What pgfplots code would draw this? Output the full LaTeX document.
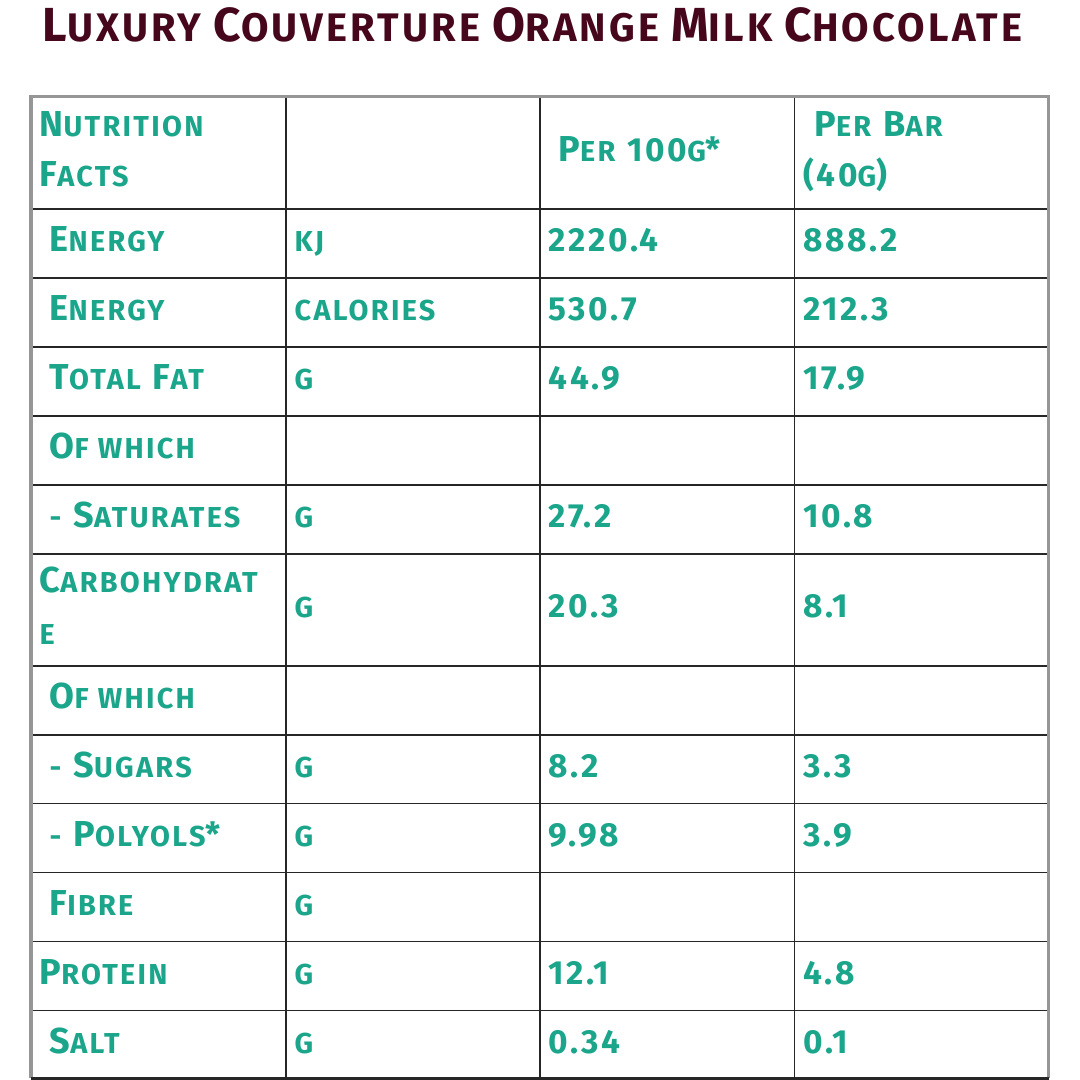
\documentclass[border=0pt]{standalone}
\usepackage{pgfplots}
\pgfplotsset{compat=1.18}
\usepackage{fontspec}
\setmainfont{Fira Sans}
\definecolor{tealA}{RGB}{27,166,140}
\definecolor{maroonA}{RGB}{70,6,28}
\definecolor{grayA}{RGB}{150,150,150}
\newcommand{\B}[1]{{\fontsize{9.5}{11}\selectfont #1}}
\newcommand{\s}[1]{{\fontsize{7.6}{9}\selectfont #1}}
\newcommand{\n}[1]{{\fontsize{8.8}{10}\selectfont #1}}
\newcommand{\TB}[1]{{\fontsize{12.6}{14}\selectfont #1}}
\newcommand{\TS}[1]{{\fontsize{10.5}{12}\selectfont #1}}
\begin{document}
\begin{tikzpicture}
\begin{axis}[width=10cm,height=10cm,scale only axis,
  xmin=0,xmax=1080,ymin=0,ymax=1080,y dir=reverse,hide axis,clip=false]
\fill[white] (axis cs:0,0) rectangle (axis cs:1080,1080);
% inner grid lines
\addplot[black!85,line width=0.45pt,unbounded coords=jump] coordinates {
(286,97)(286,1079) (nan,nan)
(540,97)(540,1079) (nan,nan)
(795,97)(795,1079) (nan,nan)
(31,209)(1049,209) (nan,nan)
(31,278)(1049,278) (nan,nan)
(31,347)(1049,347) (nan,nan)
(31,416)(1049,416) (nan,nan)
(31,485)(1049,485) (nan,nan)
(31,554)(1049,554) (nan,nan)
(31,666)(1049,666) (nan,nan)
(31,735)(1049,735) (nan,nan)
(31,804)(1049,804) (nan,nan)
(31,873)(1049,873) (nan,nan)
(31,942)(1049,942) (nan,nan)
(31,1011)(1049,1011)
};
% outer border
\addplot[grayA,line width=0.8pt] coordinates {(31,1079)(31,97)(1049,97)(1049,1079)};
\addplot[black!85,line width=0.8pt] coordinates {(31,1079)(1049,1079)};
% title
\node[anchor=base,inner sep=0,text=maroonA,font=\bfseries\addfontfeature{LetterSpace=8}] at (axis cs:533,42)
 {\TB{L}\TS{UXURY} \TB{C}\TS{OUVERTURE} \TB{O}\TS{RANGE} \TB{M}\TS{ILK} \TB{C}\TS{HOCOLATE}};
\begin{scope}[every node/.style={anchor=base west,inner sep=0,text=tealA,font=\bfseries\addfontfeature{LetterSpace=8}}]
% header
\node at (axis cs:39,137) {\B{N}\s{UTRITION}};
\node at (axis cs:39,187) {\B{F}\s{ACTS}};
\node at (axis cs:558,162) {\B{P}\s{ER} \n{100}\s{G}\n{*}};
\node at (axis cs:814,137) {\B{P}\s{ER} \B{B}\s{AR}};
\node at (axis cs:803,187) {\n{(40}\s{G}\n{)}};
% column 1
\node at (axis cs:49,252) {\B{E}\s{NERGY}};
\node at (axis cs:49,321) {\B{E}\s{NERGY}};
\node at (axis cs:49,390) {\B{T}\s{OTAL} \B{F}\s{AT}};
\node at (axis cs:49,459) {\B{O}\s{F WHICH}};
\node at (axis cs:49,528) {\s{-} \B{S}\s{ATURATES}};
\node at (axis cs:39,593) {\B{C}\s{ARBOHYDRAT}};
\node at (axis cs:39,645) {\s{E}};
\node at (axis cs:49,709) {\B{O}\s{F WHICH}};
\node at (axis cs:49,778) {\s{-} \B{S}\s{UGARS}};
\node at (axis cs:49,847) {\s{-} \B{P}\s{OLYOLS}\n{*}};
\node at (axis cs:49,916) {\B{F}\s{IBRE}};
\node at (axis cs:39,985) {\B{P}\s{ROTEIN}};
\node at (axis cs:49,1054) {\B{S}\s{ALT}};
% column 2
\node at (axis cs:294,252) {\s{KJ}};
\node at (axis cs:294,321) {\s{CALORIES}};
\node at (axis cs:294,390) {\s{G}};
\node at (axis cs:294,528) {\s{G}};
\node at (axis cs:294,618) {\s{G}};
\node at (axis cs:294,778) {\s{G}};
\node at (axis cs:294,847) {\s{G}};
\node at (axis cs:294,916) {\s{G}};
\node at (axis cs:294,985) {\s{G}};
\node at (axis cs:294,1054) {\s{G}};
% column 3
\node at (axis cs:548,252) {\n{2220.4}};
\node at (axis cs:548,321) {\n{530.7}};
\node at (axis cs:548,390) {\n{44.9}};
\node at (axis cs:548,528) {\n{27.2}};
\node at (axis cs:548,618) {\n{20.3}};
\node at (axis cs:548,778) {\n{8.2}};
\node at (axis cs:548,847) {\n{9.98}};
\node at (axis cs:548,985) {\n{12.1}};
\node at (axis cs:548,1054) {\n{0.34}};
% column 4
\node at (axis cs:803,252) {\n{888.2}};
\node at (axis cs:803,321) {\n{212.3}};
\node at (axis cs:803,390) {\n{17.9}};
\node at (axis cs:803,528) {\n{10.8}};
\node at (axis cs:803,618) {\n{8.1}};
\node at (axis cs:803,778) {\n{3.3}};
\node at (axis cs:803,847) {\n{3.9}};
\node at (axis cs:803,985) {\n{4.8}};
\node at (axis cs:803,1054) {\n{0.1}};
\end{scope}
\end{axis}
\end{tikzpicture}
\end{document}
